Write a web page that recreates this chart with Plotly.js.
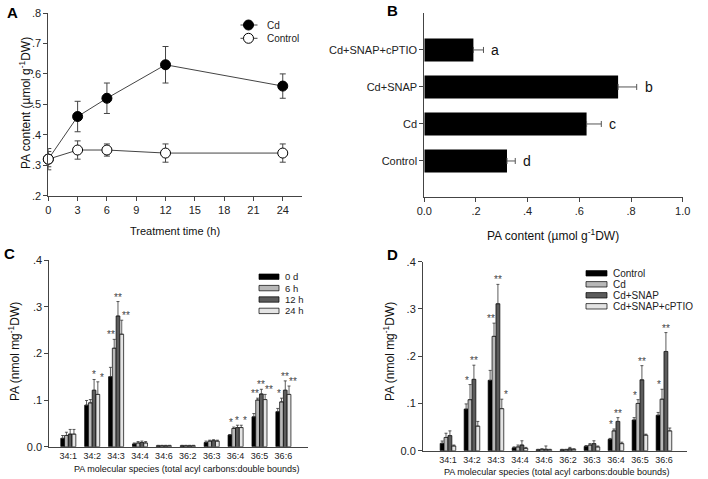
<!DOCTYPE html>
<html><head><meta charset="utf-8">
<script src="https://cdn.plot.ly/plotly-3.0.1.min.js"></script>
<style>html,body{margin:0;padding:0;background:#fff;}#chart{width:708px;height:479px;}</style>
</head><body><div id="chart"></div>
<script>
// ---------- Data ----------
// Panel A
const timeH = [0, 3, 6, 12, 24];
const cdA = [0.32, 0.46, 0.52, 0.63, 0.56];
const cdAErr = [0.035, 0.05, 0.05, 0.06, 0.04];
const ctrlA = [0.32, 0.35, 0.35, 0.34, 0.34];
const ctrlAErr = [0.025, 0.03, 0.02, 0.03, 0.03];
const seriesA = ['Cd', 'Control'];

// Panel B
const treatmentsB = ['Control', 'Cd', 'Cd+SNAP', 'Cd+SNAP+cPTIO'];
const valuesB = [0.32, 0.628, 0.75, 0.19];
const errB = [0.032, 0.057, 0.072, 0.039];
const lettersB = ['d', 'c', 'b', 'a'];

// Panel C / D categories
const species = ['34:1', '34:2', '34:3', '34:4', '34:6', '36:2', '36:3', '36:4', '36:5', '36:6'];

// Panel C
const seriesC = ['0 d', '6 h', '12 h', '24 h'];
const c0d  = [0.018, 0.089, 0.150, 0.006, 0.002, 0.002, 0.009, 0.025, 0.064, 0.075];
const c6h  = [0.024, 0.094, 0.211, 0.008, 0.002, 0.002, 0.012, 0.039, 0.100, 0.096];
const c12h = [0.027, 0.121, 0.280, 0.009, 0.002, 0.002, 0.013, 0.041, 0.113, 0.121];
const c24h = [0.027, 0.112, 0.241, 0.008, 0.002, 0.002, 0.012, 0.041, 0.101, 0.112];
const e0d  = [0.006, 0.010, 0.020, 0.002, 0.001, 0.001, 0.003, 0.001, 0.007, 0.007];
const e6h  = [0.007, 0.007, 0.019, 0.003, 0.001, 0.001, 0.002, 0.003, 0.004, 0.008];
const e12h = [0.010, 0.023, 0.031, 0.003, 0.001, 0.001, 0.002, 0.005, 0.010, 0.020];
const e24h = [0.010, 0.027, 0.030, 0.003, 0.001, 0.001, 0.002, 0.005, 0.011, 0.018];
// significance marks: [category index, series index, text]
const starsC = [[1,2,'*'],[1,3,'*'],[2,1,'**'],[2,2,'**'],[2,3,'**'],[7,1,'*'],[7,2,'*'],[7,3,'*'],
                [8,1,'**'],[8,2,'**'],[8,3,'**'],[9,1,'*'],[9,2,'**'],[9,3,'**']];

// Panel D
const seriesD = ['Control', 'Cd', 'Cd+SNAP', 'Cd+SNAP+cPTIO'];
const dCtrl  = [0.0155, 0.088, 0.149, 0.006, 0.002, 0.002, 0.009, 0.024, 0.065, 0.075];
const dCd    = [0.028, 0.108, 0.242, 0.008, 0.003, 0.002, 0.012, 0.042, 0.100, 0.109];
const dSnap  = [0.032, 0.151, 0.311, 0.012, 0.003, 0.004, 0.015, 0.062, 0.150, 0.210];
const dPtio  = [0.010, 0.052, 0.089, 0.005, 0.002, 0.003, 0.008, 0.015, 0.033, 0.042];
const eCtrl  = [0.005, 0.011, 0.021, 0.002, 0.001, 0.001, 0.002, 0.002, 0.005, 0.006];
const eCd    = [0.009, 0.032, 0.028, 0.004, 0.001, 0.001, 0.003, 0.004, 0.008, 0.021];
const eSnap  = [0.010, 0.030, 0.041, 0.009, 0.007, 0.003, 0.006, 0.008, 0.030, 0.040];
const ePtio  = [0.002, 0.010, 0.020, 0.002, 0.001, 0.001, 0.002, 0.003, 0.002, 0.006];
const starsD = [[1,1,'*'],[1,2,'**'],[2,1,'**'],[2,2,'**'],[2,3,'*'],[7,1,'*'],[7,2,'**'],
                [8,1,'*'],[8,2,'**'],[9,1,'*'],[9,2,'**']];

// ---------- Styling ----------
const W = 708, H = 479;
const X = px => px / W;
const Y = py => 1 - py / H;
const FONT = 'Arial, "Liberation Sans", Helvetica, sans-serif';
const barColors = ['#000000', '#b8b8b8', '#5c5c5c', '#e4e4e4'];
const BARGAP_C = 0.37, BARGAP_D = 0.35;

function axisBase(extra) {
  return Object.assign({
    showline: true, linecolor: '#444', linewidth: 1, ticks: 'outside', ticklen: 4,
    tickcolor: '#444', tickwidth: 1, showgrid: false, zeroline: false, fixedrange: true,
    tickfont: {family: FONT, size: 11, color: '#222'}
  }, extra);
}

const traces = [];
// A
traces.push({x: timeH, y: cdA, type: 'scatter', mode: 'lines+markers', name: seriesA[0],
  xaxis: 'x', yaxis: 'y', cliponaxis: false, showlegend: false,
  line: {color: '#444', width: 1},
  marker: {symbol: 'circle', size: 10, color: '#000', line: {color: '#000', width: 1}},
  error_y: {type: 'data', array: cdAErr, color: '#444', thickness: 1, width: 3}});
traces.push({x: timeH, y: ctrlA, type: 'scatter', mode: 'lines+markers', name: seriesA[1],
  xaxis: 'x', yaxis: 'y', cliponaxis: false, showlegend: false,
  line: {color: '#444', width: 1},
  marker: {symbol: 'circle', size: 10, color: '#fff', line: {color: '#000', width: 1}},
  error_y: {type: 'data', array: ctrlAErr, color: '#444', thickness: 1, width: 3}});
// B
traces.push({y: treatmentsB.map((_, i) => i), x: valuesB, type: 'bar', orientation: 'h',
  xaxis: 'x2', yaxis: 'y2', width: 0.62, showlegend: false, name: 'PA content',
  marker: {color: '#000', line: {width: 0}},
  error_x: {type: 'data', array: errB, arrayminus: errB.map(() => 0), symmetric: false,
            color: '#555', thickness: 1, width: 3}});
// C
const idx = species.map((_, i) => i);
const cVals = [c0d, c6h, c12h, c24h], cErrs = [e0d, e6h, e12h, e24h];
cVals.forEach((v, k) => traces.push({x: idx, y: v, type: 'bar', name: seriesC[k],
  xaxis: 'x3', yaxis: 'y3', showlegend: false,
  marker: {color: barColors[k], line: {color: '#000', width: 0.7}},
  error_y: {type: 'data', array: cErrs[k], arrayminus: cErrs[k].map(() => 0), symmetric: false,
            color: '#333', thickness: 0.8, width: 1.5}}));
// D
const dVals = [dCtrl, dCd, dSnap, dPtio], dErrs = [eCtrl, eCd, eSnap, ePtio];
dVals.forEach((v, k) => traces.push({x: idx, y: v, type: 'bar', name: seriesD[k],
  xaxis: 'x4', yaxis: 'y4', showlegend: false,
  marker: {color: barColors[k], line: {color: '#000', width: 0.7}},
  error_y: {type: 'data', array: dErrs[k], arrayminus: dErrs[k].map(() => 0), symmetric: false,
            color: '#333', thickness: 0.8, width: 1.5}}));

// ---------- Annotations ----------
const ann = [];
function txt(text, px, py, opts) {
  ann.push(Object.assign({text: text, xref: 'paper', yref: 'paper', x: X(px), y: Y(py),
    xanchor: 'center', yanchor: 'middle',
    showarrow: false, font: {family: FONT, size: 11, color: '#111'}}, opts || {}));
}
// panel letters
[['A', 12, 12], ['B', 392, 10], ['C', 9, 253], ['D', 392, 255]].forEach(p =>
  txt('<b>' + p[0] + '</b>', p[1], p[2], {font: {family: FONT, size: 15, color: '#000'}}));
// axis titles
txt('PA content (µmol g<sup>-1</sup>DW)', 25, 103, {textangle: -90, font: {family: FONT, size: 12, color: '#111'}});
txt('Treatment time (h)', 175, 231, {font: {family: FONT, size: 11, color: '#111'}});
txt('PA content (µmol g<sup>-1</sup>DW)', 553, 235, {font: {family: FONT, size: 12, color: '#111'}});
txt('PA (nmol mg<sup>-1</sup>DW)', 14, 352, {textangle: -90, font: {family: FONT, size: 12, color: '#111'}});
txt('PA molecular species (total acyl carbons:double bounds)', 186, 469, {font: {family: FONT, size: 9, color: '#111'}});
txt('PA (nmol mg<sup>-1</sup>DW)', 389, 352, {textangle: -90, font: {family: FONT, size: 12, color: '#111'}});
txt('PA molecular species (total acyl carbons:double bounds)', 556, 472, {font: {family: FONT, size: 9, color: '#111'}});

// B letters
lettersB.forEach((l, i) => ann.push({text: l, xref: 'x2', yref: 'y2', x: valuesB[i] + errB[i], y: i,
  xanchor: 'left', yanchor: 'middle', xshift: 6, showarrow: false, font: {family: FONT, size: 14, color: '#111'}}));

// stars
function starAnn(list, vals, errs, gap, xr, yr) {
  const w = 1 - gap, bw = w / 4;
  const shifts = [0, -3, 0, 4];
  list.forEach(s => {
    const c = s[0], k = s[1];
    ann.push({text: s[2], xref: xr, yref: yr, x: c - w / 2 + (k + 0.5) * bw,
      y: vals[k][c] + errs[k][c], xanchor: 'center', yanchor: 'bottom', xshift: shifts[k], yshift: -3,
      showarrow: false, font: {family: FONT, size: 10, color: '#444'}});
  });
}
starAnn(starsC, cVals, cErrs, BARGAP_C, 'x3', 'y3');
starAnn(starsD, dVals, dErrs, BARGAP_D, 'x4', 'y4');

// ---------- Legends (drawn) ----------
const shapes = [];
// A legend
[[seriesA[0], 25, '#000'], [seriesA[1], 38.3, '#fff']].forEach(r => {
  shapes.push({type: 'line', xref: 'paper', yref: 'paper', x0: X(240.5), x1: X(257.5), y0: Y(r[1]), y1: Y(r[1]),
    line: {color: '#444', width: 1}});
  shapes.push({type: 'circle', xref: 'paper', yref: 'paper', x0: X(243.5), x1: X(253.5), y0: Y(r[1] + 5), y1: Y(r[1] - 5),
    fillcolor: r[2], line: {color: '#000', width: 1}});
  txt(r[0], 265, r[1], {xanchor: 'left', font: {family: FONT, size: 10, color: '#222'}});
});
// C legend
seriesC.forEach((s, k) => {
  const cy = 276.7 + k * 11.4;
  shapes.push({type: 'rect', xref: 'paper', yref: 'paper', x0: X(259), x1: X(279), y0: Y(cy + 2.7), y1: Y(cy - 2.7),
    fillcolor: barColors[k], line: {color: '#000', width: 0.7}});
  txt(s, 283, cy, {xanchor: 'left', font: {family: FONT, size: 9.5, color: '#222'}});
});
// D legend
seriesD.forEach((s, k) => {
  const cy = 273.3 + k * 11;
  shapes.push({type: 'rect', xref: 'paper', yref: 'paper', x0: X(586), x1: X(607), y0: Y(cy + 2.7), y1: Y(cy - 2.7),
    fillcolor: barColors[k], line: {color: '#000', width: 0.7}});
  txt(s, 611, cy, {xanchor: 'left', font: {family: FONT, size: 10, color: '#222'}});
});

// ---------- Layout ----------
const yTickCD = [0, 0.1, 0.2, 0.3, 0.4], yTickCDText = ['0.0', '.1', '.2', '.3', '.4'];
const layout = {
  width: W, height: H, margin: {l: 0, r: 0, t: 0, b: 0},
  paper_bgcolor: '#fff', plot_bgcolor: 'rgba(0,0,0,0)', showlegend: false,
  font: {family: FONT, size: 11, color: '#222'},
  barmode: 'group',
  xaxis: axisBase({domain: [X(48.3), X(301.7)], range: [0, 25.94], anchor: 'y',
    tickvals: [0, 3, 6, 9, 12, 15, 18, 21, 24]}),
  yaxis: axisBase({domain: [Y(195.7), Y(13)], range: [0.2, 0.8], anchor: 'x',
    tickvals: [0.2, 0.3, 0.4, 0.5, 0.6, 0.7, 0.8], ticktext: ['.2', '.3', '.4', '.5', '.6', '.7', '.8']}),
  xaxis2: axisBase({domain: [X(424.3), X(682.7)], range: [0, 1], anchor: 'y2',
    tickvals: [0, 0.2, 0.4, 0.6, 0.8, 1.0], ticktext: ['0.0', '.2', '.4', '.6', '.8', '1.0']}),
  yaxis2: axisBase({domain: [Y(196.7), Y(13.3)], range: [-0.965, 3.99], anchor: 'x2',
    tickvals: [0, 1, 2, 3], ticktext: treatmentsB}),
  xaxis3: axisBase({domain: [X(49.3), X(308)], range: [-0.795, 10.03], anchor: 'y3', ticks: '',
    tickvals: idx, ticktext: species, tickfont: {family: FONT, size: 9, color: '#222'}}),
  yaxis3: axisBase({domain: [Y(446.7), Y(260)], range: [0, 0.4], anchor: 'x3',
    tickvals: yTickCD, ticktext: yTickCDText}),
  xaxis4: axisBase({domain: [X(423), X(687)], range: [-1.04, 9.96], anchor: 'y4', ticks: '',
    tickvals: idx, ticktext: species, tickfont: {family: FONT, size: 9, color: '#222'}}),
  yaxis4: axisBase({domain: [Y(450.7), Y(261.7)], range: [0, 0.4], anchor: 'x4',
    tickvals: yTickCD, ticktext: yTickCDText}),
  annotations: ann, shapes: shapes
};
// per-subplot bar widths
traces.forEach(t => {
  if (t.xaxis === 'x3') t.width = (1 - BARGAP_C) / 4;
  if (t.xaxis === 'x4') t.width = (1 - BARGAP_D) / 4;
});
// offsets so that groups are centered on the categories
['x3', 'x4'].forEach(ax => {
  const gap = ax === 'x3' ? BARGAP_C : BARGAP_D;
  const w = 1 - gap, bw = w / 4;
  let k = 0;
  traces.forEach(t => {
    if (t.xaxis === ax) { t.offset = -w / 2 + k * bw; k++; }
  });
});
Plotly.newPlot('chart', traces, layout, {staticPlot: true, displayModeBar: false});
</script>
</body></html>
